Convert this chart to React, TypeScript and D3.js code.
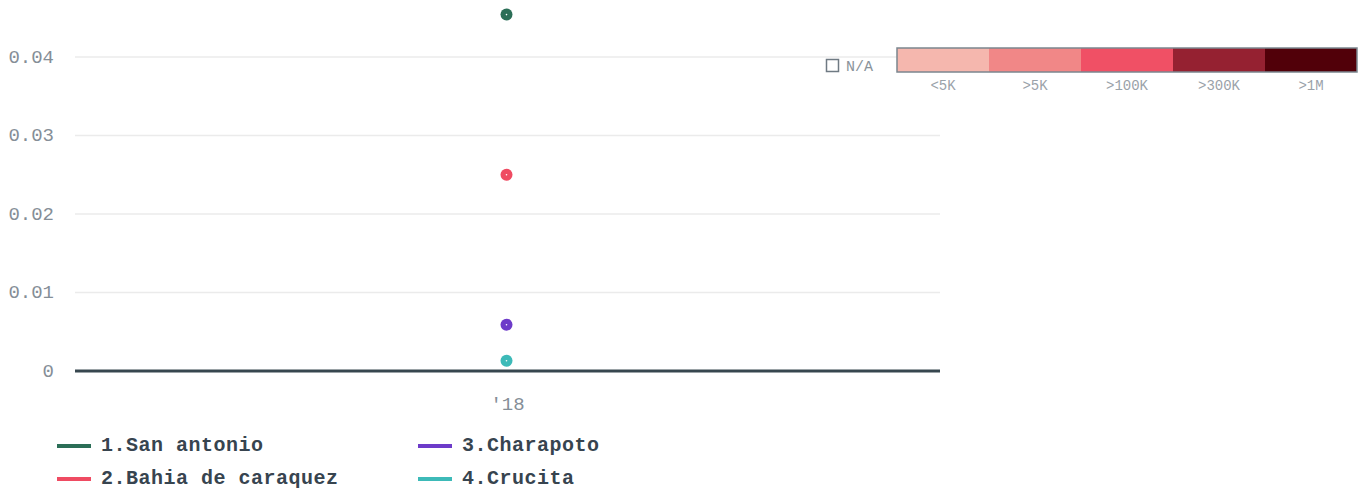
import { useEffect, useRef } from "react";
import * as d3 from "d3";

const categories = ["'18"];
const seriesNames = ["1.San antonio", "2.Bahia de caraquez", "3.Charapoto", "4.Crucita"];
const seriesColors = ["#2b6e57", "#ef4b62", "#6d3bc9", "#3dbab8"];
const seriesValues = [0.0454, 0.025, 0.0059, 0.0013];
const yTicks = [0, 0.01, 0.02, 0.03, 0.04];
const scaleLabels = ["<5K", ">5K", ">100K", ">300K", ">1M"];
const scaleColors = ["#f5b7ae", "#f18787", "#f05065", "#952131", "#510009"];

const W = 1366;
const H = 494;
const margin = { top: 57, right: 426, bottom: 123, left: 75 };
const FONT = "'Liberation Mono', 'DejaVu Sans Mono', monospace";

export default function App() {
  const svgRef = useRef<SVGSVGElement>(null);

  useEffect(() => {
    const svg = d3.select(svgRef.current);
    svg.selectAll("*").remove();

    const innerW = W - margin.left - margin.right;
    const innerH = H - margin.top - margin.bottom;

    const x = d3.scaleBand().domain(categories).range([0, innerW]);
    const y = d3.scaleLinear().domain([0, 0.04]).range([innerH, 0]);

    const g = svg.append("g").attr("transform", `translate(${margin.left},${margin.top})`);

    // grid lines
    g.selectAll("line.grid")
      .data(yTicks.filter((t) => t > 0))
      .enter()
      .append("line")
      .attr("x1", 0)
      .attr("x2", innerW)
      .attr("y1", (d) => y(d))
      .attr("y2", (d) => y(d))
      .attr("stroke", "#ebebeb")
      .attr("stroke-width", 1.5);

    // y tick labels
    g.selectAll("text.ytick")
      .data(yTicks)
      .enter()
      .append("text")
      .attr("x", -21)
      .attr("y", (d) => y(d) - 1)
      .attr("dy", "0.35em")
      .attr("text-anchor", "end")
      .attr("font-family", FONT)
      .attr("font-size", 19)
      .attr("fill", "#858e97")
      .text((d) => (d === 0 ? "0" : d3.format(".2f")(d)));

    // baseline
    g.append("line")
      .attr("x1", 0)
      .attr("x2", innerW)
      .attr("y1", y(0))
      .attr("y2", y(0))
      .attr("stroke", "#37474f")
      .attr("stroke-width", 3);

    // x labels
    g.selectAll("text.xtick")
      .data(categories)
      .enter()
      .append("text")
      .attr("x", (d) => (x(d) ?? 0) + x.bandwidth() / 2)
      .attr("y", innerH + 39)
      .attr("text-anchor", "middle")
      .attr("font-family", FONT)
      .attr("font-size", 19)
      .attr("fill", "#858e97")
      .text((d) => d);

    // points
    const cx = (x(categories[0]) ?? 0) + x.bandwidth() / 2 - 1;
    seriesValues.forEach((v, i) => {
      g.append("circle")
        .attr("cx", cx)
        .attr("cy", y(v))
        .attr("r", 6)
        .attr("fill", seriesColors[i]);
      g.append("circle")
        .attr("cx", cx)
        .attr("cy", y(v))
        .attr("r", 0.8)
        .attr("fill", "#fff");
    });

    // series legend
    const legend = svg.append("g");
    seriesNames.forEach((name, i) => {
      const col = Math.floor(i / 2);
      const row = i % 2;
      const lx = 57 + col * 361;
      const ly = 445 + row * 33;
      legend
        .append("line")
        .attr("x1", lx)
        .attr("x2", lx + 34)
        .attr("y1", ly + 1)
        .attr("y2", ly + 1)
        .attr("stroke", seriesColors[i])
        .attr("stroke-width", 4);
      legend
        .append("text")
        .attr("x", lx + 44)
        .attr("y", ly - 1)
        .attr("dy", "0.35em")
        .attr("font-family", FONT)
        .attr("font-size", 20)
        .attr("font-weight", "bold")
        .attr("letter-spacing", 0.5)
        .attr("fill", "#37444f")
        .text(name);
    });

    // colour scale legend
    const sx = d3.scaleBand().domain(scaleLabels).range([897, 1357]);
    const sl = svg.append("g");
    sl.selectAll("rect.sw")
      .data(scaleLabels)
      .enter()
      .append("rect")
      .attr("x", (d) => sx(d) ?? 0)
      .attr("y", 48)
      .attr("width", sx.bandwidth())
      .attr("height", 24)
      .attr("fill", (_, i) => scaleColors[i]);
    sl.append("rect")
      .attr("x", 897)
      .attr("y", 48)
      .attr("width", 460)
      .attr("height", 24)
      .attr("fill", "none")
      .attr("stroke", "#7b868f")
      .attr("stroke-width", 1.5);
    sl.selectAll("text.sl")
      .data(scaleLabels)
      .enter()
      .append("text")
      .attr("x", (d) => (sx(d) ?? 0) + sx.bandwidth() / 2)
      .attr("y", 85)
      .attr("dy", "0.35em")
      .attr("text-anchor", "middle")
      .attr("font-family", FONT)
      .attr("font-size", 14)
      .attr("fill", "#9aa2a9")
      .text((d) => d);
    sl.append("rect")
      .attr("x", 826.5)
      .attr("y", 59.5)
      .attr("width", 12)
      .attr("height", 12)
      .attr("fill", "#fff")
      .attr("stroke", "#6f7a83")
      .attr("stroke-width", 1.5);
    sl.append("text")
      .attr("x", 846)
      .attr("y", 66)
      .attr("dy", "0.35em")
      .attr("font-family", FONT)
      .attr("font-size", 15)
      .attr("fill", "#8a939b")
      .text("N/A");
  }, []);

  return (
    <svg
      ref={svgRef}
      width={W}
      height={H}
      style={{ position: "absolute", left: 0, top: 0, background: "#fff" }}
    />
  );
}
